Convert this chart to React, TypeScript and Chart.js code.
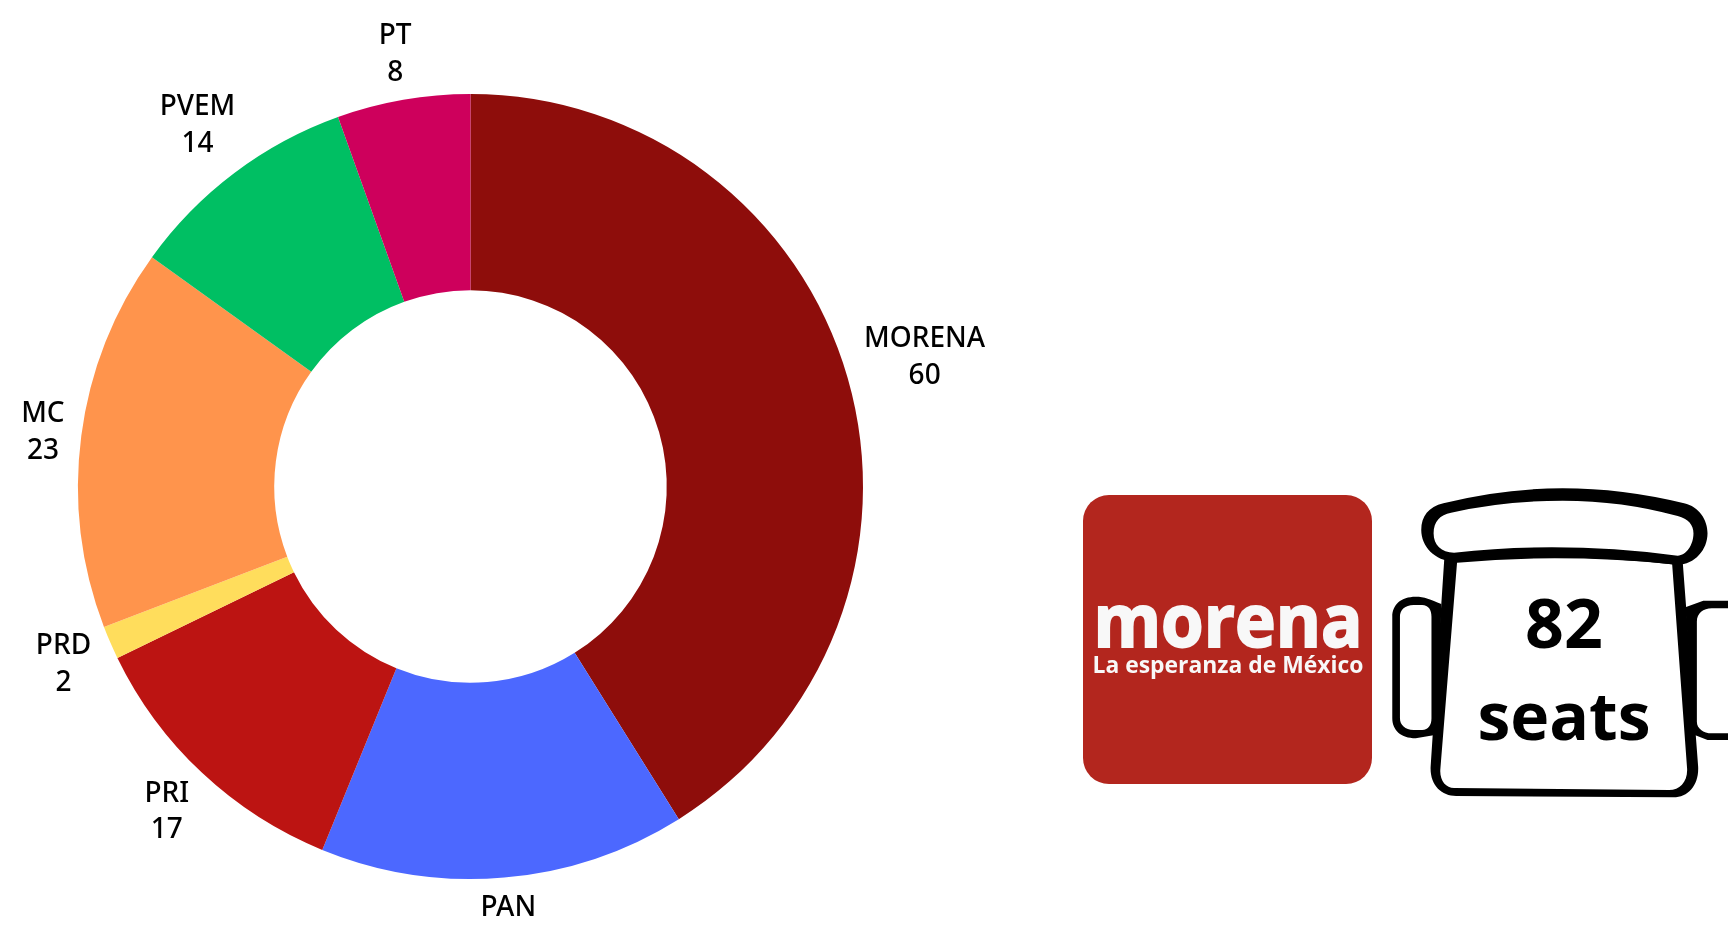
import React, { useEffect, useRef } from "react";
import { Chart, registerables } from "chart.js";

Chart.register(...registerables);

const parties = ["MORENA", "PAN", "PRI", "PRD", "MC", "PVEM", "PT"];
const seats = [60, 22, 17, 2, 23, 14, 8];
const colours = ["#8E0D0B", "#4C68FF", "#BC1412", "#FFDD5C", "#FF944C", "#00BF63", "#CE005C"];
const logoWord = "morena";
const logoSlogan = "La esperanza de México";
const seatTotal = "82";
const seatWord = "seats";

const FONT = '"Open Sans", sans-serif';
const LABEL_FONT = '"Noto Sans", sans-serif';

const outsideLabels = {
  id: "outsideLabels",
  afterDatasetsDraw(chart: any) {
    const { ctx } = chart;
    const arcs = chart.getDatasetMeta(0).data;
    const fontSize = 28;
    const lineH = 36.5;
    ctx.save();
    ctx.font = `500 ${fontSize}px ${LABEL_FONT}`;
    ctx.fillStyle = "#000";
    ctx.textAlign = "center";
    ctx.textBaseline = "middle";
    arcs.forEach((arc: any, i: number) => {
      const p = arc.getProps(["x", "y", "startAngle", "endAngle", "outerRadius"], true);
      const mid = (p.startAngle + p.endAngle) / 2;
      const name = parties[i];
      const hw = ctx.measureText(name).width / 2;
      const r = p.outerRadius + 13 + Math.abs(Math.cos(mid)) * hw + Math.abs(Math.sin(mid)) * 32;
      const cx = p.x + Math.cos(mid) * r;
      const cy = p.y + Math.sin(mid) * r + 1.5;
      ctx.fillText(name, cx, cy - lineH / 2);
      ctx.fillText(String(seats[i]), cx, cy + lineH / 2);
    });
    ctx.restore();
  },
};

function ChairAndLogo() {
  return (
    <svg width={1728} height={930} style={{ position: "absolute", left: 0, top: 0 }}>
      <rect x={1083} y={495} width={289} height={289} rx={26} ry={26} fill="#B3261E" />
      <text x={1228} y={647} textAnchor="middle" textLength={269} lengthAdjust="spacingAndGlyphs"
        fontFamily={FONT} fontWeight={700} fontSize={74} fill="#F8F8F8" stroke="#F8F8F8" strokeWidth={2}>{logoWord}</text>
      <text x={1228} y={673} textAnchor="middle" textLength={271} lengthAdjust="spacingAndGlyphs"
        fontFamily={FONT} fontWeight={700} fontSize={24} fill="#F8F8F8">{logoSlogan}</text>
      <g transform="translate(1060 470) scale(0.426 0.3333)" fillRule="evenodd" fill="#000">
        <path d="M900 100 Q1040 55 1180 55 Q1320 55 1465 100 C1500 110 1520 150 1520 190 C1520 240 1490 283 1450 285 Q1180 244 925 275 C880 272 848 230 848 180 C848 140 865 110 900 100Z M918 128 C892 134 877 155 877 190 C877 225 895 248 925 248 Q1180 212 1450 257 C1470 257 1487 225 1487 190 C1487 165 1475 146 1450 138 Q1320 92 1180 92 Q1040 92 918 128Z" />
        <path d="M902 268 L870 890 C868 945 895 978 930 978 L1440 982 C1475 982 1500 945 1498 890 L1462 280 Q1180 240 902 268Z M932 278 L893 895 C890 930 905 954 925 954 L1430 960 C1455 960 1474 935 1472 895 L1437 283 Q1180 250 932 278Z" />
        <path d="M895 402 C870 388 855 380 835 380 C800 380 780 405 780 440 L780 745 C780 780 800 805 835 805 L880 795 L890 700Z M830 405 C810 405 798 420 798 440 L798 745 C798 765 810 780 830 780 L850 780 C865 780 872 765 872 745 L872 440 C872 420 865 405 850 405Z" />
        <path d="M1468 412 L1510 392 L1600 392 L1640 440 L1640 770 L1600 810 L1520 810 L1490 795Z M1530 415 C1510 415 1495 430 1495 455 L1495 755 C1495 775 1510 790 1530 790 L1600 790 L1620 755 L1620 455 L1600 415Z" />
      </g>
      <text x={1564} y={648} textAnchor="middle" fontFamily={FONT} fontWeight={700} fontSize={68} fill="#000">{seatTotal}</text>
      <text x={1564} y={740} textAnchor="middle" fontFamily={FONT} fontWeight={700} fontSize={66} fill="#000">{seatWord}</text>
    </svg>
  );
}

export default function App() {
  const ref = useRef<HTMLCanvasElement>(null);
  useEffect(() => {
    const chart = new Chart(ref.current as HTMLCanvasElement, {
      type: "doughnut",
      data: {
        labels: parties,
        datasets: [{ data: seats, backgroundColor: colours, borderWidth: 0 }],
      },
      options: {
        animation: false,
        responsive: false,
        cutout: "50%",
        layout: { padding: { left: 78, top: 94, right: 865, bottom: 51 } },
        plugins: { legend: { display: false }, tooltip: { enabled: false } },
      },
      plugins: [outsideLabels],
    });
    return () => chart.destroy();
  }, []);
  return (
    <div style={{ position: "fixed", left: 0, top: 0, width: 1728, height: 930, overflow: "hidden", background: "#fff" }}>
      <canvas ref={ref} width={1728} height={930} style={{ position: "absolute", left: 0, top: 0, display: "block" }} />
      <ChairAndLogo />
    </div>
  );
}
